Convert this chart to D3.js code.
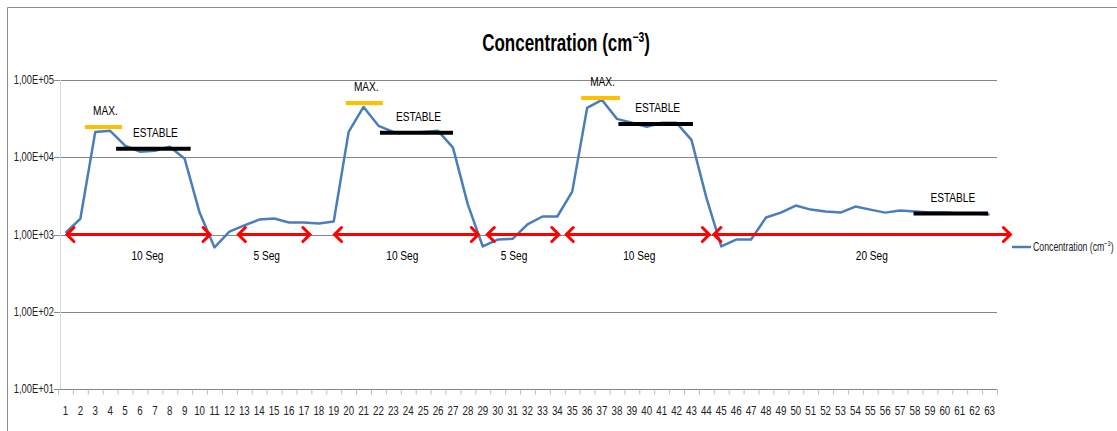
<!DOCTYPE html>
<html>
<head>
<meta charset="utf-8">
<script src="https://cdn.jsdelivr.net/npm/d3@7"></script>
<style>
  body { margin: 0; background: #fff; }
  text { font-family: "Liberation Sans", Arial, sans-serif; }
</style>
</head>
<body>
<div id="chart"></div>
<script>
// data
var categories = d3.range(1, 64);
var concentration = [
  1050, 1600, 21300, 22000, 14100, 11800, 12100, 13700, 9540, 1920,
  680, 1090, 1310, 1560, 1610, 1430, 1430, 1390, 1470, 21300,
  44800, 25500, 21300, 20700, 21300, 22000, 13300, 2440, 700, 860,
  880, 1350, 1710, 1710, 3590, 43500, 55200, 31400, 27900, 24700,
  27900, 27900, 16800, 3000, 700, 860, 860, 1660, 1920, 2370,
  2100, 1980, 1920, 2300, 2100, 1920, 2040, 1980, 1920, 1920,
  1870, 1870, 1810
];
var yTicks = [1e1, 1e2, 1e3, 1e4, 1e5];
var yTickLabels = ["1,00E+01", "1,00E+02", "1,00E+03", "1,00E+04", "1,00E+05"];

// annotations (category position, value)
var maxBars = [
  { from: 2.3, to: 4.8, value: 24700 },
  { from: 19.8, to: 22.3, value: 50500 },
  { from: 35.6, to: 38.2, value: 58600 }
];
var stableBars = [
  { from: 4.4, to: 9.4, value: 12900 },
  { from: 22.1, to: 27.0, value: 20700 },
  { from: 38.1, to: 43.1, value: 27000 },
  { from: 57.9, to: 62.9, value: 1870 }
];
var segments = [
  { from: 1.1, to: 10.7, label: "10 Seg", labelAt: 6.5 },
  { from: 12.6, to: 17.4, label: "5 Seg", labelAt: 14.5 },
  { from: 19.05, to: 28.7, label: "10 Seg", labelAt: 23.6 },
  { from: 29.3, to: 34.1, label: "5 Seg", labelAt: 31.1 },
  { from: 34.6, to: 44.2, label: "10 Seg", labelAt: 39.5 },
  { from: 44.5, to: 64.4, label: "20 Seg", labelAt: 55.1 }
];
var segmentValue = 1000;

// settings
var svgWidth = 1117;
var svgHeight = 431;
var plot = { left: 58, right: 997, top: 80, bottom: 389 };
var lineColor = "#4a7ebb";
var gridColor = "#868686";
var squeeze = 0.78; // narrow the text like the original font

var svg = d3.select("#chart").append("svg")
  .attr("width", svgWidth)
  .attr("height", svgHeight);

// place a text at (x, y) and narrow it horizontally
function at(x, y, sx) {
  return `translate(${x}, ${y}) scale(${sx || squeeze}, 1)`;
}

// chart border (top and left edges are visible)
svg.append("path")
  .attr("d", `M7.5,${svgHeight}V7.5H${svgWidth}`)
  .attr("fill", "none")
  .attr("stroke", "#8c8c8c")
  .attr("stroke-width", 1);

// scales
var xScale = d3.scaleLinear()
  .domain([0.5, categories.length + 0.5])
  .range([plot.left, plot.right]);
var yScale = d3.scaleLog()
  .domain([10, 1e5])
  .range([plot.bottom, plot.top]);

// title
var title = svg.append("text")
  .attr("transform", at(566, 51, 0.74))
  .attr("text-anchor", "middle")
  .attr("font-size", "23px")
  .attr("font-weight", "bold")
  .attr("fill", "#000");
title.append("tspan").text("Concentration (cm");
title.append("tspan").attr("font-size", "14px").attr("dy", -9).text("\u22123");
title.append("tspan").attr("dy", 9).text(")");

// gridlines
svg.append("g")
  .selectAll("line")
  .data(yTicks)
  .enter()
  .append("line")
  .attr("x1", plot.left - 4)
  .attr("x2", plot.right)
  .attr("y1", d => Math.round(yScale(d)) + 0.5)
  .attr("y2", d => Math.round(yScale(d)) + 0.5)
  .attr("stroke", gridColor)
  .attr("stroke-width", 1);

// y axis line
svg.append("line")
  .attr("x1", plot.left + 2.5).attr("x2", plot.left + 2.5)
  .attr("y1", plot.top).attr("y2", plot.bottom)
  .attr("stroke", "#d9d9d9");

// y tick labels
svg.append("g")
  .selectAll("text")
  .data(yTicks)
  .enter()
  .append("text")
  .attr("transform", d => at(plot.left - 4, yScale(d) + 4))
  .attr("text-anchor", "end")
  .attr("font-size", "12px")
  .attr("fill", "#222")
  .text((d, i) => yTickLabels[i]);

// x axis ticks between categories
var xAxis = d3.axisBottom(xScale)
  .tickValues(d3.range(0.5, categories.length + 1, 1))
  .tickSize(5)
  .tickFormat("");
var xAxisG = svg.append("g")
  .attr("transform", `translate(0, ${Math.round(plot.bottom) + 0.5})`)
  .call(xAxis);
xAxisG.select(".domain").remove();
xAxisG.selectAll("line").attr("stroke", "#bbb");

// x labels
svg.append("g")
  .selectAll("text")
  .data(categories)
  .enter()
  .append("text")
  .attr("transform", d => at(xScale(d), 415))
  .attr("text-anchor", "middle")
  .attr("font-size", "12.5px")
  .attr("fill", "#222")
  .text(d => d);

// data line
var line = d3.line()
  .x((d, i) => xScale(categories[i]))
  .y(d => yScale(d));
svg.append("path")
  .datum(concentration)
  .attr("d", line)
  .attr("fill", "none")
  .attr("stroke", lineColor)
  .attr("stroke-width", 2.5)
  .attr("stroke-linejoin", "round");

// MAX. bars
var maxG = svg.append("g");
maxG.selectAll("line")
  .data(maxBars)
  .enter()
  .append("line")
  .attr("x1", d => xScale(d.from))
  .attr("x2", d => xScale(d.to))
  .attr("y1", d => yScale(d.value))
  .attr("y2", d => yScale(d.value))
  .attr("stroke", "#ffc000")
  .attr("stroke-width", 4);
maxG.selectAll("text")
  .data(maxBars)
  .enter()
  .append("text")
  .attr("transform", d => at(xScale((d.from + d.to) / 2) + 2, yScale(d.value) - 12))
  .attr("text-anchor", "middle")
  .attr("font-size", "13px")
  .attr("fill", "#000")
  .text("MAX.");

// ESTABLE bars
var stableG = svg.append("g");
stableG.selectAll("line")
  .data(stableBars)
  .enter()
  .append("line")
  .attr("x1", d => xScale(d.from))
  .attr("x2", d => xScale(d.to))
  .attr("y1", d => yScale(d.value))
  .attr("y2", d => yScale(d.value))
  .attr("stroke", "#000")
  .attr("stroke-width", 4);
stableG.selectAll("text")
  .data(stableBars)
  .enter()
  .append("text")
  .attr("transform", d => at(xScale((d.from + d.to) / 2) + 2, yScale(d.value) - 12))
  .attr("text-anchor", "middle")
  .attr("font-size", "13px")
  .attr("fill", "#000")
  .text("ESTABLE");

// red double arrows
var arrowY = yScale(segmentValue);
var head = 7;
var segG = svg.append("g")
  .selectAll("g")
  .data(segments)
  .enter()
  .append("g");
segG.append("path")
  .attr("d", d => {
    var x1 = xScale(d.from), x2 = xScale(d.to);
    return `M${x1},${arrowY}L${x2},${arrowY}` +
      `M${x1 + head},${arrowY - head}L${x1},${arrowY}L${x1 + head},${arrowY + head}` +
      `M${x2 - head},${arrowY - head}L${x2},${arrowY}L${x2 - head},${arrowY + head}`;
  })
  .attr("fill", "none")
  .attr("stroke", "#ff0000")
  .attr("stroke-width", 3)
  .attr("stroke-linecap", "round")
  .attr("stroke-linejoin", "miter");
segG.append("text")
  .attr("transform", d => at(xScale(d.labelAt), arrowY + 25))
  .attr("text-anchor", "middle")
  .attr("font-size", "13px")
  .attr("fill", "#000")
  .text(d => d.label);

// legend
var legend = svg.append("g").attr("transform", "translate(1012, 247)");
legend.append("line")
  .attr("x1", 0).attr("x2", 19)
  .attr("y1", 0).attr("y2", 0)
  .attr("stroke", lineColor)
  .attr("stroke-width", 2.5);
var legendText = legend.append("text")
  .attr("transform", at(21, 4, 0.7))
  .attr("font-size", "12.5px")
  .attr("fill", "#222");
legendText.append("tspan").text("Concentration (cm");
legendText.append("tspan").attr("font-size", "8px").attr("dy", -5).text("\u22123");
legendText.append("tspan").attr("dy", 5).text(")");
</script>
</body>
</html>
